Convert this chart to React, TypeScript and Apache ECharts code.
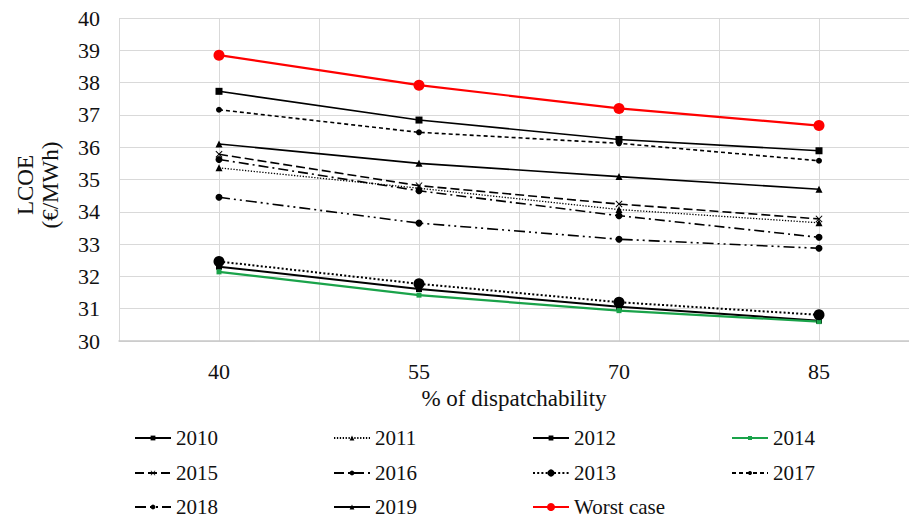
import React, { useEffect, useRef } from "react";
import * as echarts from "echarts";

// Dispatchability levels (%) on the horizontal axis
const dispatchability = [40, 55, 70, 85];

// LCOE (€/MWh) per scenario year, one value per dispatchability level
const lcoe2010 = [32.3, 31.61, 31.06, 30.63];
const lcoe2011 = [35.36, 34.73, 34.07, 33.66];
const lcoe2012 = [37.73, 36.84, 36.24, 35.89];
const lcoe2014 = [32.14, 31.42, 30.94, 30.6];
const lcoe2015 = [35.78, 34.81, 34.24, 33.78];
const lcoe2016 = [35.62, 34.65, 33.88, 33.21];
const lcoe2013 = [32.46, 31.77, 31.2, 30.81];
const lcoe2017 = [37.16, 36.46, 36.12, 35.58];
const lcoe2018 = [34.45, 33.65, 33.15, 32.87];
const lcoe2019 = [36.1, 35.5, 35.09, 34.7];
const lcoeWorst = [38.85, 37.92, 37.2, 36.67];

// Legend order (row by row, four per row)
const seriesNames = [
  "2010", "2011", "2012", "2014",
  "2015", "2016", "2013", "2017",
  "2018", "2019", "Worst case",
];

const yTicks = { min: 30, max: 40, step: 1 };

const FONT = "'Liberation Serif', 'Times New Roman', serif";
const INK = "#111";
const GRID = "#d9d9d9";

const crossPath =
  "path://M0,1L1,0L5,4L9,0L10,1L6,5L10,9L9,10L5,6L1,10L0,9L4,5Z";

type Style = {
  values: number[];
  color: string;
  width: number;
  dash: number[] | "solid";
  symbol: string;
  size: number;
  legendSize: number;
};

const styles: Record<string, Style> = {
  "2010": { values: lcoe2010, color: "#000", width: 2, dash: "solid", symbol: "rect", size: 6, legendSize: 6 },
  "2011": { values: lcoe2011, color: "#000", width: 1.3, dash: [1.3, 1.6], symbol: "triangle", size: 7, legendSize: 6 },
  "2012": { values: lcoe2012, color: "#000", width: 1.6, dash: "solid", symbol: "rect", size: 7, legendSize: 6 },
  "2014": { values: lcoe2014, color: "#1aa34a", width: 2.2, dash: "solid", symbol: "rect", size: 5, legendSize: 5 },
  "2015": { values: lcoe2015, color: "#000", width: 1.6, dash: [9, 4], symbol: crossPath, size: 7, legendSize: 6 },
  "2016": { values: lcoe2016, color: "#000", width: 1.6, dash: [10, 4, 2, 4], symbol: "circle", size: 7, legendSize: 6 },
  "2013": { values: lcoe2013, color: "#000", width: 2, dash: [2, 2.2], symbol: "circle", size: 11, legendSize: 9 },
  "2017": { values: lcoe2017, color: "#000", width: 1.6, dash: [4, 3], symbol: "circle", size: 6, legendSize: 5 },
  "2018": { values: lcoe2018, color: "#000", width: 1.6, dash: [11, 4, 2, 4, 2, 4], symbol: "circle", size: 7, legendSize: 6 },
  "2019": { values: lcoe2019, color: "#000", width: 1.6, dash: "solid", symbol: "triangle", size: 7, legendSize: 6 },
  "Worst case": { values: lcoeWorst, color: "#ff0000", width: 2.2, dash: "solid", symbol: "circle", size: 11, legendSize: 10 },
};

// legend grid placement
const legendCols = [134, 333, 532, 731];
const legendRows = [438, 473, 507];

export default function App() {
  const ref = useRef<HTMLDivElement>(null);

  useEffect(() => {
    if (!ref.current) return;
    const chart = echarts.init(ref.current, null, { renderer: "svg" });

    const series = seriesNames.map((name) => {
      const s = styles[name];
      return {
        name,
        type: "line",
        data: dispatchability.map((x, i) => [x, s.values[i]]),
        symbol: s.symbol,
        symbolSize: s.size,
        showSymbol: true,
        lineStyle: { color: s.color, width: s.width, type: s.dash },
        itemStyle: { color: s.color },
        z: name === "Worst case" ? 5 : 3,
      };
    });

    // one legend per entry so the entries sit on a fixed 4-column grid
    const legends = seriesNames.map((name, i) => ({
      data: [name],
      orient: "horizontal",
      left: legendCols[i % 4],
      top: legendRows[Math.floor(i / 4)] - 11,
      padding: 0,
      itemWidth: 36,
      itemHeight: styles[name].legendSize,
      itemGap: 0,
      selectedMode: false,
      textStyle: { fontFamily: FONT, fontSize: 21, color: INK, lineHeight: 22 },
    }));

    chart.setOption({
      animation: false,
      backgroundColor: "#fff",
      grid: { left: 119, right: 0, top: 18, bottom: 179, containLabel: false },
      xAxis: {
        type: "value",
        min: 32.5,
        max: 91.75,
        interval: 7.5,
        name: "% of dispatchability",
        nameLocation: "middle",
        nameGap: 45,
        nameTextStyle: { fontFamily: FONT, fontSize: 23, color: INK },
        axisLine: { show: true, lineStyle: { color: "#c8c8c8", width: 1.5 } },
        axisTick: { show: false },
        splitLine: { show: true, lineStyle: { color: GRID, width: 1 } },
        axisLabel: {
          fontFamily: FONT,
          fontSize: 22,
          color: INK,
          margin: 19,
          showMaxLabel: false,
          formatter: (v: number) =>
            dispatchability.includes(Math.round(v * 10) / 10) ? String(Math.round(v)) : "",
        },
      },
      yAxis: {
        type: "value",
        min: yTicks.min,
        max: yTicks.max,
        interval: yTicks.step,
        axisLine: { show: false },
        axisTick: { show: false },
        splitLine: { show: true, lineStyle: { color: GRID, width: 1 } },
        axisLabel: { fontFamily: FONT, fontSize: 22, color: INK, margin: 19 },
      },
      legend: legends,
      graphic: [
        {
          type: "text",
          x: 38,
          y: 185,
          rotation: Math.PI / 2,
          style: {
            text: "LCOE\n(€/MWh)",
            font: `23px ${FONT}`,
            fill: INK,
            align: "center",
            verticalAlign: "middle",
            lineHeight: 25,
          },
        },
      ],
      series,
    });

    return () => chart.dispose();
  }, []);

  return (
    <div
      ref={ref}
      style={{ position: "absolute", left: 0, top: 0, width: 909, height: 520 }}
    />
  );
}
